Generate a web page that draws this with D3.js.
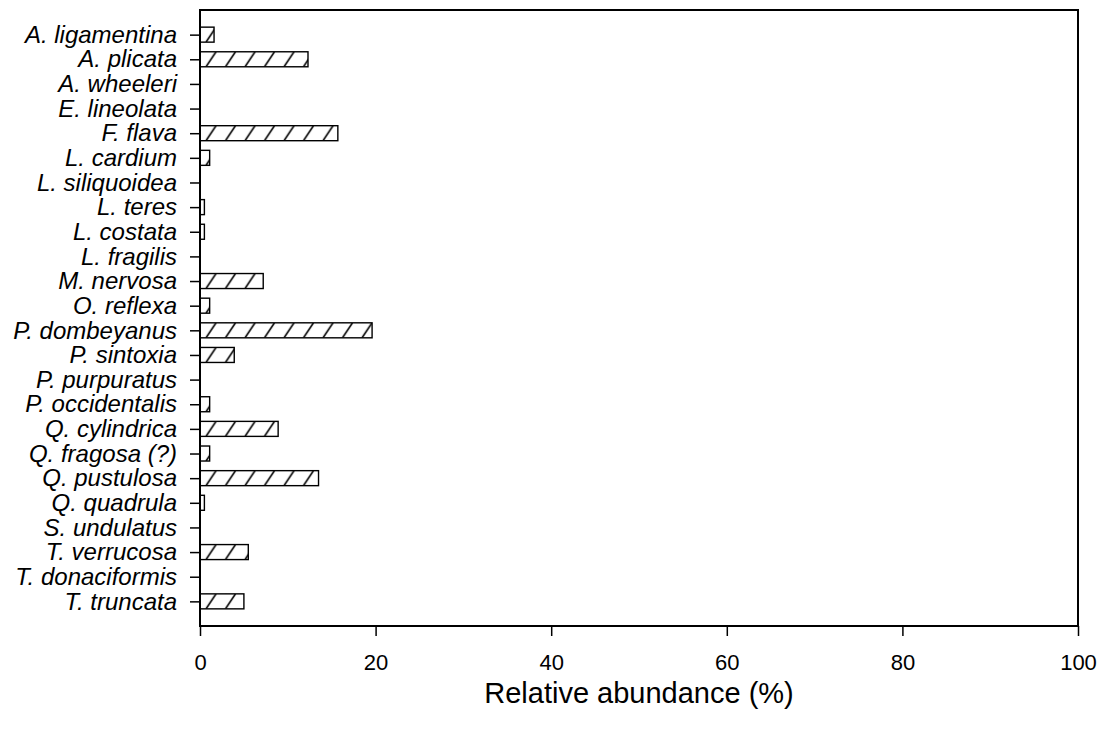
<!DOCTYPE html>
<html>
<head>
<meta charset="utf-8">
<script src="https://cdn.jsdelivr.net/npm/d3@7"></script>
<style>
  body { margin: 0; background: #fff; }
  svg { display: block; }
  text { font-family: "Liberation Sans", Arial, sans-serif; fill: #000; }
</style>
</head>
<body>
<svg id="chart" width="1103" height="734"></svg>
<script>
// Species (top to bottom) and their relative abundance (%)
const species = [
  "A. ligamentina", "A. plicata", "A. wheeleri", "E. lineolata", "F. flava",
  "L. cardium", "L. siliquoidea", "L. teres", "L. costata", "L. fragilis",
  "M. nervosa", "O. reflexa", "P. dombeyanus", "P. sintoxia", "P. purpuratus",
  "P. occidentalis", "Q. cylindrica", "Q. fragosa (?)", "Q. pustulosa",
  "Q. quadrula", "S. undulatus", "T. verrucosa", "T. donaciformis", "T. truncata"
];
const abundance = [
  1.6, 12.3, 0, 0, 15.7,
  1.1, 0, 0.5, 0.5, 0,
  7.2, 1.1, 19.6, 3.9, 0,
  1.1, 8.9, 1.1, 13.5,
  0.5, 0, 5.5, 0, 5.0
];
const xTicks = [0, 20, 40, 60, 80, 100];

const data = species.map((s, i) => ({ id: "hatch" + i, name: s, value: abundance[i] }))
  .filter(d => d.value > 0);

const svg = d3.select("#chart");
const plotLeft = 200, plotRight = 1078, plotTop = 10, plotBottom = 626;

const x = d3.scaleLinear().domain([0, 100]).range([plotLeft, plotRight]);
const y = d3.scalePoint().domain(species).range([plotTop, plotBottom]).padding(1);
const barH = 15;
const hatchGap = 19.5;   // horizontal spacing between hatch strokes
const hatchRun = 10;     // horizontal run of one stroke across the bar height
const hatchStart = 6;    // offset of the first stroke at the bar's lower edge

// One diagonal hatch pattern per bar, anchored at the bar's top-left corner
const defs = svg.append("defs");
const pats = defs.selectAll("pattern")
  .data(data)
  .join("pattern")
  .attr("id", d => d.id)
  .attr("patternUnits", "userSpaceOnUse")
  .attr("width", hatchGap).attr("height", barH)
  .attr("patternTransform", d => `translate(${x(0)},${y(d.name) - barH / 2})`);
pats.append("rect").attr("width", hatchGap).attr("height", barH).attr("fill", "#fff");
pats.append("line")
  .attr("x1", hatchStart).attr("y1", barH)
  .attr("x2", hatchStart + hatchRun).attr("y2", 0)
  .attr("stroke", "#000").attr("stroke-width", 1.6);

// Bars
svg.append("g").selectAll("rect")
  .data(data)
  .join("rect")
  .attr("x", x(0))
  .attr("y", d => y(d.name) - barH / 2)
  .attr("width", d => x(d.value) - x(0))
  .attr("height", barH)
  .attr("fill", d => `url(#${d.id})`)
  .attr("stroke", "#000")
  .attr("stroke-width", 1.4);

// Plot frame
svg.append("rect")
  .attr("x", plotLeft).attr("y", plotTop)
  .attr("width", plotRight - plotLeft).attr("height", plotBottom - plotTop)
  .attr("fill", "none").attr("stroke", "#000").attr("stroke-width", 2);

// Y axis
const yAxis = svg.append("g")
  .attr("transform", `translate(${plotLeft},0)`)
  .call(d3.axisLeft(y).tickSize(10).tickPadding(13));
yAxis.select(".domain").remove();
yAxis.selectAll("line").attr("stroke", "#000").attr("stroke-width", 1.5);
yAxis.selectAll("text")
  .style("font-size", "24px")
  .style("font-style", "italic")
  .style("font-family", "'Liberation Sans', Arial, sans-serif");

// X axis
const xAxis = svg.append("g")
  .attr("transform", `translate(0,${plotBottom})`)
  .call(d3.axisBottom(x).tickValues(xTicks).tickSize(10).tickPadding(18));
xAxis.select(".domain").remove();
xAxis.selectAll("line").attr("stroke", "#000").attr("stroke-width", 1.5);
xAxis.selectAll("text")
  .style("font-size", "22px")
  .style("font-family", "'Liberation Sans', Arial, sans-serif");

// X axis title
svg.append("text")
  .attr("x", (plotLeft + plotRight) / 2)
  .attr("y", 703)
  .attr("text-anchor", "middle")
  .style("font-size", "29px")
  .text("Relative abundance (%)");
</script>
</body>
</html>
